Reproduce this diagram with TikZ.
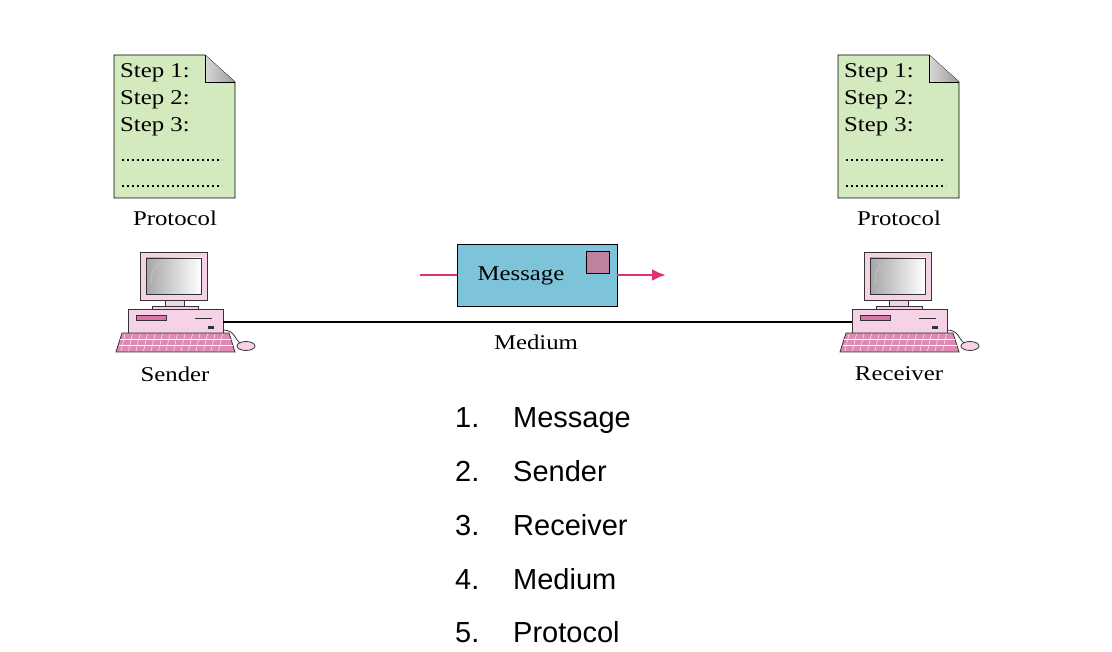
\documentclass[tikz,border=0pt]{standalone}
\usepackage{fontspec}
\setmainfont{Liberation Serif}[FakeStretch=1.18]
\newfontfamily\listfont{Liberation Sans}
\usetikzlibrary{arrows.meta}
\begin{document}
\begin{tikzpicture}[x=1pt,y=-1pt,
  lbl/.style={font=\fontsize{21}{23}\selectfont, inner sep=0},
  itm/.style={font=\listfont\fontsize{29}{32}\selectfont, anchor=base west, inner sep=0},
  pk/.style={draw=black!80, line width=0.8pt}]
\definecolor{docg}{RGB}{210,234,190}
\definecolor{msgb}{RGB}{125,196,218}
\definecolor{stamp}{RGB}{190,130,160}
\definecolor{pinkc}{RGB}{245,210,230}
\definecolor{pinkd}{RGB}{200,60,130}
\definecolor{arr}{RGB}{225,50,120}
\useasboundingbox (0,0) rectangle (1112,652);
\newcommand\protdoc[2]{%
 \begin{scope}[shift={(#1,0)}]
  \fill[docg] (114,55) -- (205,55) -- (235,82) -- (235,198) -- (114,198) -- cycle;
  \draw[line width=0.8pt] (114,55) -- (205,55) -- (235,82) -- (235,198) -- (114,198) -- cycle;
  \shade[left color=gray!30, right color=gray!80] (205,55) -- (205,82) -- (235,82) -- cycle;
  \draw[line width=0.8pt] (205,55) -- (205,82) -- (235,82);
  \node[lbl,anchor=west] (#2s1) at (120,73) {Step 1:};
  \node[lbl,anchor=west] (#2s2) at (120,100) {Step 2:};
  \node[lbl,anchor=west] (#2s3) at (120,127) {Step 3:};
  \draw[line width=2pt, dash pattern=on 1.6pt off 3.4pt] (122,160) -- (222,160);
  \draw[line width=2pt, dash pattern=on 1.6pt off 3.4pt] (122,186) -- (222,186);
  \node[lbl] (#2p) at (175,218) {Protocol};
 \end{scope}}
\newcommand\pcicon[1]{%
 \begin{scope}[shift={(#1,0)}]
  \draw[pk, fill=pinkc] (140,252) rectangle (207,300);
  \shade[pk, left color=gray!70, right color=white] (146,258) rectangle (201,294);
  \draw[gray!50!white, line width=1pt] (151,285) .. controls (151,268) and (155,263) .. (170,262);
  \draw[pk, fill=pinkc] (165,300) rectangle (184,306);
  \draw[pk, fill=pinkc] (152,306) rectangle (198,309);
  \draw[pk, fill=pinkc] (128,309) rectangle (223,333);
  \draw[pk, fill=pinkd!70] (136,315) rectangle (166,320);
  \draw[pk] (195,318) -- (212,318);
  \fill[black!80] (208,326) rectangle (214,329);
  \draw[pk, fill=pinkd!60] (122,333) -- (229,333) -- (235,352) -- (116,352) -- cycle;
  \foreach \i in {0,...,13} \draw[white] (125+\i*7.5,334) -- (121+\i*7.5,351);
  \draw[white] (120,339) -- (231,339); \draw[white] (119,345) -- (233,345);
  \draw[pk] (223,330) .. controls (235,330) and (235,340) .. (240,343);
  \draw[pk, fill=pinkc] (246,346) ellipse (9 and 4.5);
 \end{scope}}
\protdoc{0}{L}
\protdoc{724}{R}
\pcicon{0}
\pcicon{724}
\coordinate (snd) at (223,322);
\coordinate (rcv) at (852,322);
\draw[line width=1.2pt] (snd) -- (rcv);
\node[lbl] (sender) at (175,374) {Sender};
\node[lbl] (receiver) at (899,374) {Receiver};
\node[lbl] (medium) at (536,342) {Medium};
\node[draw, line width=0.9pt, fill=msgb, minimum width=160pt, minimum height=62pt, inner sep=0] (msg) at (537,275) {};
\node[lbl] (msgt) at (521,276) {Message};
\draw[line width=0.9pt, fill=stamp] (586,251) rectangle (609,273);
\coordinate (ain) at (420,275);
\coordinate (aout) at (666,275);
\draw[arr, line width=2.8pt] (ain) -- (msg.west);
\draw[arr, line width=2.8pt, -{Latex[length=14pt,width=12pt]}] (msg.east) -- (aout);
\foreach \n/\t [count=\k] in {1/Message,2/Sender,3/Receiver,4/Medium,5/Protocol} {
  \pgfmathsetmacro\yy{428+53.7*(\k-1)}
  \node[itm] (n\k) at (455,\yy) {\n.};
  \node[itm] (t\k) at (513,\yy) {\t};
}
\end{tikzpicture}
\end{document}
